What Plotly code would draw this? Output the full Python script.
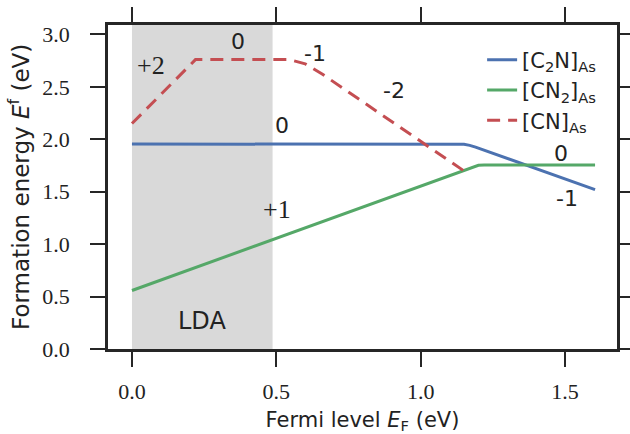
import plotly.graph_objects as go

# --- data ---
c2n_x = [0.0, 1.13, 1.15, 1.17, 1.19, 1.604]
c2n_y = [1.955, 1.955, 1.952, 1.942, 1.925, 1.52]

cn2_x = [0.0, 1.185, 1.20, 1.22, 1.604]
cn2_y = [0.558, 1.743, 1.752, 1.755, 1.755]

cn_x = [0.0, 0.22, 0.545, 0.60, 0.66, 1.165]
cn_y = [2.15, 2.76, 2.76, 2.72, 2.62, 1.67]

lda_range = [0.0, 0.487]

labels_text = ["+2", "0", "-1", "-2", "0", "+1", "0", "-1"]
labels_x = [0.066, 0.367, 0.634, 0.908, 0.52, 0.503, 1.487, 1.507]
labels_y = [2.70, 2.93, 2.82, 2.47, 2.13, 1.33, 1.866, 1.435]
labels_serif = [True, False, False, False, False, True, False, False]

x_ticks = [0.0, 0.5, 1.0, 1.5]
y_ticks = [0.0, 0.5, 1.0, 1.5, 2.0, 2.5, 3.0]

SANS = "DejaVu Sans"
SERIF = "Liberation Serif"
FRAME = "#262626"
TXT = "#222222"

fig = go.Figure()
fig.add_trace(go.Scatter(x=c2n_x, y=c2n_y, mode="lines", legendgroup="a",
                         line=dict(color="#4C72B0", width=3),
                         name="[C<sub>2</sub>N]<sub>As</sub>"))
fig.add_trace(go.Scatter(x=cn2_x, y=cn2_y, mode="lines", legendgroup="b",
                         line=dict(color="#55A868", width=3),
                         name="[CN<sub>2</sub>]<sub>As</sub>"))
fig.add_trace(go.Scatter(x=cn_x, y=cn_y, mode="lines", legendgroup="c",
                         line=dict(color="#C44E52", width=3, dash="13px,8px"),
                         name="[CN]<sub>As</sub>"))

fig.add_shape(type="rect", xref="x", yref="paper", x0=lda_range[0], x1=lda_range[1],
              y0=0, y1=1, fillcolor="#d9d9d9", line=dict(width=0), layer="below")

for t, x, y, s in zip(labels_text, labels_x, labels_y, labels_serif):
    fig.add_annotation(x=x, y=y, text=t, showarrow=False,
                       font=dict(family=SERIF if s else SANS, size=26 if s else 22, color=TXT))
fig.add_annotation(x=0.244, y=0.27, text="LDA", showarrow=False,
                   font=dict(family=SANS, size=24, color=TXT))

# y-axis title placed as rotated text left of the tick labels
fig.add_annotation(xref="paper", yref="paper", x=-0.175, y=0.50, textangle=-90,
                   xanchor="center", yanchor="middle", showarrow=False,
                   text="Formation energy <i>E</i><sup>f</sup> (eV)",
                   font=dict(family=SANS, size=23, color=TXT))

axis_common = dict(showgrid=False, zeroline=False, showline=True, linecolor=FRAME,
                   linewidth=2.5, mirror="allticks", ticks="outside", ticklen=15,
                   tickwidth=2, tickcolor=FRAME, automargin=False,
                   tickfont=dict(family=SERIF, size=22, color=TXT))

fig.update_xaxes(range=[-0.083, 1.68], tickvals=x_ticks,
                 ticktext=[f"{v:.1f}" for v in x_ticks], ticklabelstandoff=6,
                 title=dict(text="Fermi level <i>E</i><sub>F</sub> (eV)",
                            font=dict(family=SANS, size=21, color=TXT), standoff=14),
                 **axis_common)
fig.update_yaxes(range=[0, 3.09], tickvals=y_ticks,
                 ticktext=[f"{v:.1f}" for v in y_ticks], ticklabelstandoff=16,
                 **axis_common)

fig.update_layout(width=630, height=434, margin=dict(l=108, r=13, t=25, b=85),
                  plot_bgcolor="white", paper_bgcolor="white",
                  legend=dict(x=0.735, y=0.955, xanchor="left", yanchor="top",
                              bgcolor="rgba(0,0,0,0)", font=dict(family=SANS, size=21, color=TXT),
                              tracegroupgap=0))

fig.write_html("out.html")
